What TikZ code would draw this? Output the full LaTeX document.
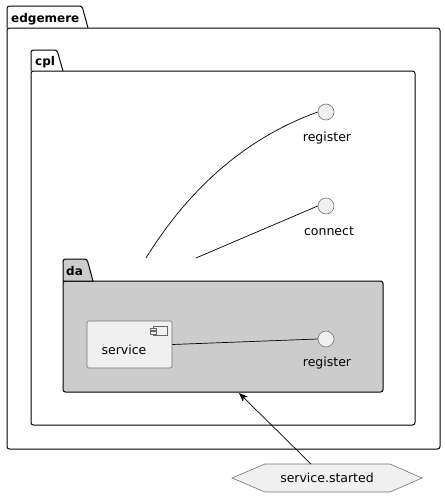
\documentclass[tikz,border=0pt]{standalone}
\usepackage{fontspec}
\setmainfont{DejaVu Sans}
\usetikzlibrary{arrows.meta}
\begin{document}
\begin{tikzpicture}[x=1pt,y=-1pt,
  pkgbody/.style={draw=black,line width=1pt,rounded corners=2.5pt},
  pkglabel/.style={font=\bfseries\fontsize{12}{14}\selectfont,inner sep=0pt,anchor=base west},
  iface/.style={circle,draw=black!55,fill=black!6,minimum size=16pt,inner sep=0pt,line width=0.6pt},
  lbl/.style={font=\fontsize{12.5}{15}\selectfont,inner sep=0pt},
  conn/.style={draw=black,line width=0.7pt}]
\useasboundingbox (0,0) rectangle (445,496);
% edgemere
\draw[pkgbody] (7,28) rectangle (440,449);
\draw[line width=1pt,rounded corners=2.5pt] (7,28) -- (7,6) -- (82,6) [sharp corners] -- (88,28);
\node[pkglabel] (edgemerelbl) at (11,22) {edgemere};
% cpl
\draw[pkgbody] (31,71) rectangle (415,425);
\draw[line width=1pt,rounded corners=2.5pt] (31,71) -- (31,50) -- (57,50) [sharp corners] -- (63,71);
\node[pkglabel] (cpllbl) at (35,65) {cpl};
% da
\draw[pkgbody,fill=black!20] (63,281) rectangle (383,392);
\draw[line width=1pt,rounded corners=2.5pt,fill=black!20] (63,281) -- (63,259) -- (87,259) [sharp corners] -- (93,281) -- cycle;
\node[pkglabel] (dalbl) at (66,275) {da};
\coordinate (dabottom) at (239,393);
\coordinate (dacurve) at (146,258);
\coordinate (daline) at (196,258);
% service component
\node[draw=black!55,fill=black!6,rounded corners=2pt,minimum width=85pt,minimum height=47pt,line width=0.6pt] (service) at (129.5,344.5) {};
\node[lbl] (servicelbl) at (124,350) {service};
\draw[black!60,line width=0.5pt] (153,326) rectangle (167,335);
\draw[black!60,fill=black!6,line width=0.5pt] (150,328) rectangle (156,330.5);
\draw[black!60,fill=black!6,line width=0.5pt] (150,331.5) rectangle (156,334);
% interfaces
\node[iface] (regtop) at (326,112) {};
\node[lbl] (regtoplbl) at (327,138) {register};
\node[iface] (connect) at (326,206) {};
\node[lbl] (connectlbl) at (329,231) {connect};
\node[iface] (regda) at (326,339) {};
\node[lbl] (regdalbl) at (327,363) {register};
% connectors
\draw[conn] (dacurve) .. controls (185,195) and (240,140) .. (regtop.west);
\draw[conn] (daline) -- (connect.west);
\draw[conn] (service.east) -- (regda.west);
% event
\draw[draw=black!55,fill=black!6,line width=0.6pt] (232,478) -- (265,464) -- (390,464) -- (422,478) -- (390,492) -- (265,492) -- cycle;
\node[lbl] (started) at (327,478) {service.started};
\coordinate (starttop) at (311,464);
\draw[conn,-{Stealth[length=9pt,width=7pt,inset=2.5pt]}] (starttop) -- (dabottom);
\end{tikzpicture}
\end{document}
